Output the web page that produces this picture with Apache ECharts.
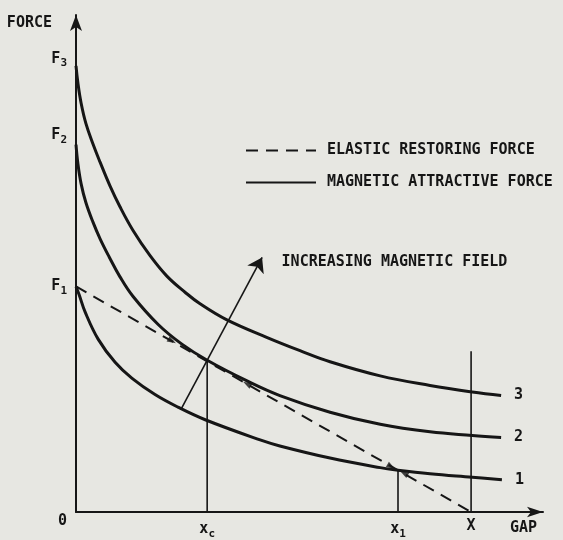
<!DOCTYPE html>
<html><head><meta charset="utf-8">
<script src="https://cdn.jsdelivr.net/npm/echarts@6/dist/echarts.min.js"></script>
<style>html,body{margin:0;padding:0;background:#e7e7e2}#c{width:563px;height:540px}</style>
</head><body><div id="c"></div>
<script>
// ---- data (arbitrary units) ----
const curve1 = [[0,4.475],[0.08,4.31],[0.23,3.97],[0.56,3.43],[0.99,2.97],[1.42,2.65],[2.0,2.33],[2.58,2.08],[3.27,1.83],[4.66,1.43],[5.16,1.31],[6.43,1.07],[7.70,0.88],[8.15,0.83],[8.96,0.76],[10.03,0.69],[10.78,0.64]];
const curve2 = [[0,7.29],[0.05,6.90],[0.13,6.51],[0.25,6.14],[0.43,5.75],[0.61,5.42],[0.84,5.06],[1.11,4.67],[1.44,4.28],[2.08,3.72],[2.68,3.33],[3.32,3.01],[4.33,2.60],[5.16,2.31],[6.43,1.98],[7.70,1.74],[8.96,1.59],[10.03,1.52],[10.76,1.48]];
const curve3 = [[0,8.85],[0.05,8.50],[0.13,8.11],[0.25,7.71],[0.43,7.30],[0.61,6.94],[0.86,6.47],[1.11,6.06],[1.44,5.59],[1.87,5.09],[2.30,4.68],[2.76,4.36],[3.14,4.13],[3.82,3.81],[4.84,3.46],[5.67,3.20],[6.43,2.98],[7.70,2.70],[8.96,2.51],[10.03,2.38],[10.76,2.31]];
const curveLabels = ['1','2','3'];
const elastic = [[0,4.475],[10,0]];
const xTickValues = [3.32, 8.15, 10];
const xTickLabels = ['{x|x}{s|c}', '{x|x}{s|1}', '{x|X}'];
const yTickValues = [0, 4.475, 7.47, 8.99];
const yTickLabels = ['{o|0}', '{f|F}{s|1}', '{f|F}{s|2}', '{f|F}{s|3}'];
const verticals = [[[3.32,0],[3.32,3.01]], [[8.15,0],[8.15,0.83]], [[10,0],[10,3.19]]];
const fieldArrow = [[2.66,2.04],[4.71,5.05]];
const fieldText = 'INCREASING MAGNETIC FIELD';
const elasticName = 'ELASTIC RESTORING FORCE';
const magneticName = 'MAGNETIC ATTRACTIVE FORCE';
const dirMarks = [[2.43,3.39,-120],[4.33,2.54,60],[7.98,0.90,-120],[8.30,0.77,60]];

const INK = '#161616';
const FONT = 'DejaVu Sans Mono';
const chart = echarts.init(document.getElementById('c'), null, {renderer:'canvas'});

const curveSeries = [curve1, curve2, curve3].map((d, i) => ({
  type: 'line', name: magneticName, data: d, smooth: 0.4,
  showSymbol: false, symbol: 'none', silent: true,
  lineStyle: {width: 3, color: INK}, itemStyle: {color: INK},
  endLabel: {show: true, formatter: () => curveLabels[i], distance: 13,
    color: INK, fontFamily: FONT, fontWeight: 'bold', fontSize: 15}
}));

const option = {
  backgroundColor: '#e7e7e2',
  animation: false,
  textStyle: {fontFamily: FONT},
  grid: {left: 76, right: 20, top: 15, bottom: 27},
  legend: {
    data: [elasticName, magneticName], orient: 'vertical', left: 240, top: 138,
    itemWidth: 70, itemHeight: 18, itemGap: 17, selectedMode: false,
    lineStyle: {width: 2, opacity: 1},
    itemStyle: {opacity: 0},
    textStyle: {fontFamily: FONT, fontWeight: 'bold', fontSize: 15, color: INK, padding: [0,0,0,6]}
  },
  xAxis: {
    type: 'value', min: 0, max: 11.82,
    name: 'GAP', nameLocation: 'end', nameGap: -33,
    nameTextStyle: {fontFamily: FONT, fontWeight: 'bold', fontSize: 15, color: INK, verticalAlign: 'top', padding: [9,0,0,0]},
    axisLine: {show: true, symbol: ['none','arrow'], symbolSize: [8,16], lineStyle: {width: 2, color: INK}},
    axisTick: {show: false}, splitLine: {show: false},
    axisLabel: {
      customValues: xTickValues, margin: 7, color: INK,
      formatter: v => xTickLabels[xTickValues.indexOf(v)] || '',
      rich: {
        x: {fontFamily: FONT, fontWeight: 'bold', fontSize: 15, color: INK},
        s: {fontFamily: FONT, fontWeight: 'bold', fontSize: 11, color: INK, padding: [10,0,0,0]}
      }
    }
  },
  yAxis: {
    type: 'value', min: 0, max: 9.86,
    name: 'FORCE', nameLocation: 'end', nameGap: -8,
    nameTextStyle: {fontFamily: FONT, fontWeight: 'bold', fontSize: 15, color: INK, align: 'right', verticalAlign: 'middle', padding: [0,24,0,0]},
    axisLine: {show: true, symbol: ['none','arrow'], symbolSize: [9,16], lineStyle: {width: 2, color: INK}},
    axisTick: {show: false}, splitLine: {show: false},
    axisLabel: {
      customValues: yTickValues, margin: 9, color: INK,
      formatter: v => yTickLabels[yTickValues.indexOf(v)] || '',
      rich: {
        f: {fontFamily: FONT, fontWeight: 'bold', fontSize: 15, color: INK},
        s: {fontFamily: FONT, fontWeight: 'bold', fontSize: 11, color: INK, padding: [9,0,0,0]},
        o: {fontFamily: FONT, fontWeight: 'bold', fontSize: 15, color: INK, padding: [19,0,0,0]}
      }
    }
  },
  series: [
    {
      type: 'line', name: elasticName, data: elastic, showSymbol: false, symbol: 'none', silent: true,
      lineStyle: {width: 2, color: INK, type: [12,8]}, itemStyle: {color: INK}
    },
    ...curveSeries,
    ...verticals.map(v => ({
      type: 'line', data: v, showSymbol: false, symbol: 'none', silent: true,
      lineStyle: {width: 1.6, color: INK}
    })),
    {
      type: 'lines', coordinateSystem: 'cartesian2d', silent: true,
      symbol: ['none','arrow'], symbolSize: [8,14],
      lineStyle: {width: 1.6, color: INK, opacity: 1},
      data: [{coords: fieldArrow}]
    },
    {
      type: 'scatter', silent: true, symbolSize: 1,
      itemStyle: {opacity: 0},
      data: [{value: fieldArrow[1]}],
      label: {show: true, position: 'right', distance: 19, offset: [0,5], formatter: fieldText,
        fontFamily: FONT, fontWeight: 'bold', fontSize: 15, color: INK, opacity: 1}
    },
    {
      type: 'scatter', silent: true, symbol: 'triangle', symbolSize: [6,9],
      itemStyle: {color: INK},
      data: dirMarks.map(m => ({value: [m[0], m[1]], symbolRotate: m[2]}))
    }
  ]
};
chart.setOption(option);
</script></body></html>
